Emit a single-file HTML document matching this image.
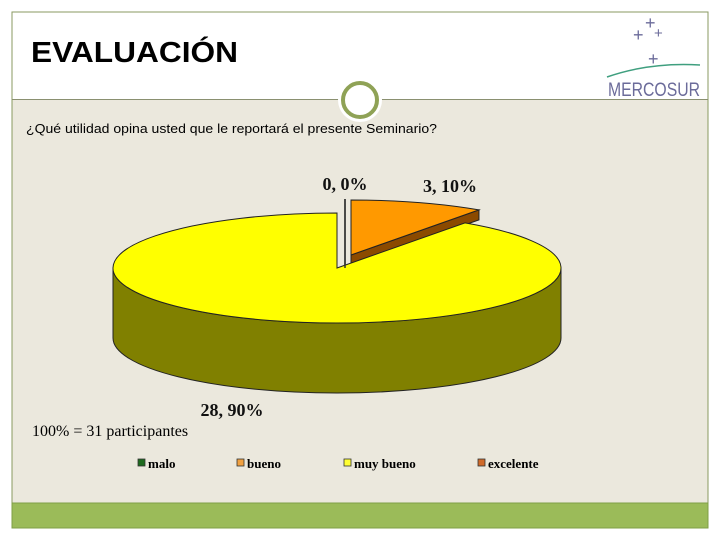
<!DOCTYPE html>
<html><head><meta charset="utf-8"><style>
body{margin:0;background:#fff;}
svg{display:block;font-family:"Liberation Sans",sans-serif;}
</style></head><body>
<svg width="720" height="540" viewBox="0 0 720 540">
<rect x="12" y="12" width="696" height="516" fill="#ebe8dd" stroke="#8a9a60" stroke-width="1"/>
<rect x="12.5" y="12.5" width="695" height="87" fill="#fff"/>
<line x1="12" y1="99.5" x2="708" y2="99.5" stroke="#8a9070" stroke-width="1"/>
<rect x="12" y="503" width="696" height="25" fill="#9bbb59" stroke="#7f9f46"/>
<text x="31" y="62" font-size="29" font-weight="bold" fill="#000" textLength="207" lengthAdjust="spacingAndGlyphs">EVALUACIÓN</text>
<circle cx="360" cy="100" r="22" fill="#fff"/>
<circle cx="360" cy="100" r="17" fill="#fff" stroke="#8fa256" stroke-width="4"/>
<g>
<text x="645" y="29" font-size="18" fill="#6b6b9a">+</text>
<text x="633" y="41" font-size="18" fill="#6b6b9a">+</text>
<text x="654" y="38" font-size="15" fill="#6b6b9a">+</text>
<text x="648" y="65" font-size="18" fill="#6b6b9a">+</text>
<path d="M607 77 Q650 62 700 65" stroke="#3f9f7f" stroke-width="1.5" fill="none"/>
<text x="608" y="96" font-size="19" fill="#6b6b9a" textLength="92" lengthAdjust="spacingAndGlyphs">MERCOSUR</text>
</g>
<text x="26" y="133" font-size="13" fill="#000" textLength="411" lengthAdjust="spacingAndGlyphs">¿Qué utilidad opina usted que le reportará el presente Seminario?</text>
<g id="chart"></g>
<text x="32" y="436" font-size="16" font-family="Liberation Serif,serif" fill="#000">100% = 31 participantes</text>
<g id="legend"></g>
</svg>
<script>
const categories=["malo","bueno","muy bueno","excelente"];
const values=[0,3,28,0];
const percentLabels=["0%","10%","90%","0%"];
const NS="http://www.w3.org/2000/svg";
const colors=["#1e6b1e","#ff9900","#ffff00","#d06a2a"];
const sideColors=["#0f3f0f","#8b4a00","#808000","#804010"];
const legendColors=["#1e6b1e","#f0a040","#ffff33","#d06a2a"];
const cx=337,cy=268,rx=224,ry=55,depth=70;
const total=values.reduce((a,b)=>a+b,0);
const chart=document.getElementById('chart');
function pt(th,ox,oy,dz){return [cx+ox+rx*Math.sin(th),cy+oy-ry*Math.cos(th)+(dz||0)];}
function mk(tag,attrs){const e=document.createElementNS(NS,tag);for(const k in attrs)e.setAttribute(k,attrs[k]);return e;}
let acc=0;
const labelPos=[[345,190],[450,192],[232,416],[345,190]];
values.forEach((v,i)=>{
  const a0=acc/total*2*Math.PI;acc+=v;const a1=acc/total*2*Math.PI;
  const explode=(i===1);
  const ox=explode?14:0,oy=explode?-13:0;
  const d=explode?10:depth;
  if(v===0){
    const p=pt(a0,0,0);
    const l=mk('line',{x1:p[0]+8,y1:p[1]-14,x2:p[0]+8,y2:cy,stroke:'#333','stroke-width':1.5});
    
    
    chart.appendChild(l);
  } else {
    const f0=Math.max(a0,Math.PI/2),f1=Math.min(a1,3*Math.PI/2);
    if(f1>f0){
      const s=pt(f0,ox,oy),e=pt(f1,ox,oy);
      const w=mk('path',{d:`M${s[0]},${s[1]} A${rx},${ry} 0 0 1 ${e[0]},${e[1]} L${e[0]},${e[1]+d} A${rx},${ry} 0 0 0 ${s[0]},${s[1]+d} Z`,fill:sideColors[i],stroke:'#222','stroke-width':1});
      
      
      chart.appendChild(w);
    }
    if(explode){
      const e=pt(a1,ox,oy);const c=[cx+ox,cy+oy];
      const w=mk('path',{d:`M${c[0]},${c[1]} L${e[0]},${e[1]} L${e[0]},${e[1]+d} L${c[0]},${c[1]+d} Z`,fill:sideColors[i],stroke:'#222','stroke-width':1});
      
      
      chart.appendChild(w);
    }
    const s=pt(a0,ox,oy),e=pt(a1,ox,oy);
    const large=(a1-a0)>Math.PI?1:0;
    const top=mk('path',{d:`M${cx+ox},${cy+oy} L${s[0]},${s[1]} A${rx},${ry} 0 ${large} 1 ${e[0]},${e[1]} Z`,fill:colors[i],stroke:'#222','stroke-width':1});
    
    
    chart.appendChild(top);
  }
});
values.forEach((v,i)=>{
  if(i===3)return;
  const t=mk('text',{x:labelPos[i][0],y:labelPos[i][1],'text-anchor':'middle','font-size':18,'font-weight':'bold','font-family':'Liberation Serif,serif',fill:'#111'});
  t.textContent=v+', '+percentLabels[i];
  
  
  chart.appendChild(t);
});
const legend=document.getElementById('legend');
const lx=[138,237,344,478];
categories.forEach((c,i)=>{
  const g=mk('g',{});
  
  
  g.appendChild(mk('rect',{x:lx[i],y:459,width:7,height:7,fill:legendColors[i],stroke:'#333','stroke-width':0.8}));
  const t=mk('text',{x:lx[i]+10,y:468,'font-size':13,'font-weight':'bold','font-family':'Liberation Serif,serif',fill:'#000'});
  t.textContent=c;
  g.appendChild(t);
  legend.appendChild(g);
});
</script>
</body></html>
